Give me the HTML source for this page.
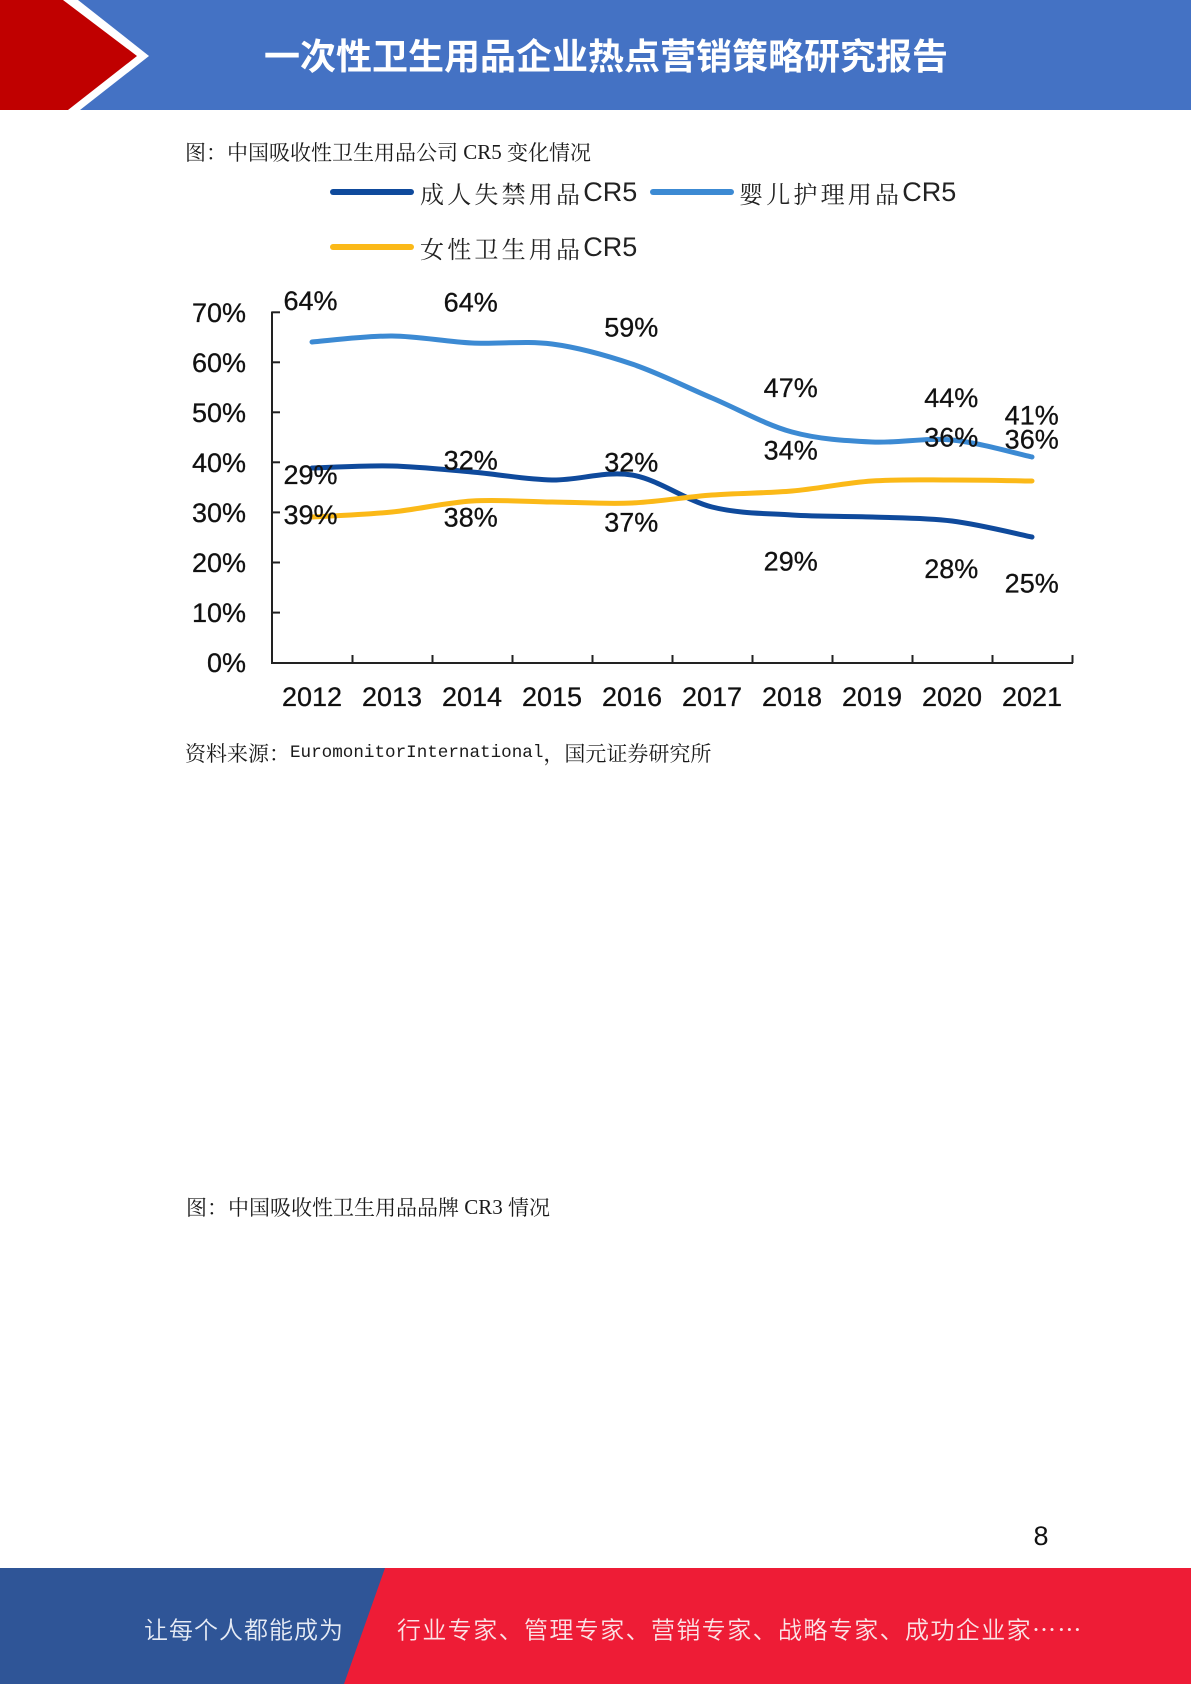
<!DOCTYPE html>
<html lang="zh">
<head>
<meta charset="utf-8">
<title>一次性卫生用品企业热点营销策略研究报告</title>
<style>
  html, body { margin: 0; padding: 0; background: #ffffff; }
  body { width: 1191px; height: 1684px; overflow: hidden; }
  svg { display: block; }
  .cap { font-family: "Noto Serif CJK SC", "Liberation Serif", serif; font-size: 21px; fill: #1a1a1a; }
  .lat { font-family: "Liberation Serif", "Noto Serif CJK SC", serif; }
  .mono { font-family: "Liberation Mono", monospace; font-size: 17.6px; }
  .num { font-family: "Liberation Sans", "DejaVu Sans", sans-serif; font-size: 27px; fill: #111; stroke: #111; stroke-width: 0.3px; }
  .leg { font-family: "Noto Serif CJK SC", "Liberation Serif", serif; font-size: 24px; fill: #222; letter-spacing: 3.2px; }
  .legl { font-family: "Liberation Sans", sans-serif; font-size: 27px; fill: #222; letter-spacing: 0; }
</style>
</head>
<body>
<svg width="1191" height="1684" viewBox="0 0 1191 1684" xmlns="http://www.w3.org/2000/svg">
  <!-- Header -->
  <rect x="0" y="0" width="1191" height="110" fill="#4472C4"/>
  <polygon points="0,0 78,0 149,56 80,110 0,110" fill="#ffffff"/>
  <polygon points="0,0 63,0 137,56 68,110 0,110" fill="#C00000"/>
  <text x="264" y="54" dominant-baseline="central" font-family="'Noto Sans CJK SC', 'Liberation Sans', sans-serif" font-weight="700" font-size="36" fill="#ffffff">一次性卫生用品企业热点营销策略研究报告</text>

  <!-- Caption 1 -->
  <text class="cap" x="185" y="152" dominant-baseline="central">图：中国吸收性卫生用品公司<tspan class="lat"> CR5 </tspan>变化情况</text>

  <!-- Legend -->
  <line x1="333" y1="192" x2="411" y2="192" stroke="#0F4A9C" stroke-width="6" stroke-linecap="round"/>
  <text x="420" y="192" dominant-baseline="central"><tspan class="leg">成人失禁用品</tspan><tspan class="legl">CR5</tspan></text>
  <line x1="653" y1="192" x2="731" y2="192" stroke="#3C8AD3" stroke-width="6" stroke-linecap="round"/>
  <text x="739" y="192" dominant-baseline="central"><tspan class="leg">婴儿护理用品</tspan><tspan class="legl">CR5</tspan></text>
  <line x1="333" y1="247" x2="411" y2="247" stroke="#FBB918" stroke-width="6" stroke-linecap="round"/>
  <text x="420" y="247" dominant-baseline="central"><tspan class="leg">女性卫生用品</tspan><tspan class="legl">CR5</tspan></text>

  <!-- Axes -->
  <g stroke="#222" stroke-width="2" fill="none">
    <line x1="272" y1="311.5" x2="272" y2="663.5"/>
    <line x1="271" y1="663" x2="1073" y2="663"/>
    <line x1="272" y1="312.3" x2="280" y2="312.3"/>
    <line x1="272" y1="362.3" x2="280" y2="362.3"/>
    <line x1="272" y1="412.3" x2="280" y2="412.3"/>
    <line x1="272" y1="462.3" x2="280" y2="462.3"/>
    <line x1="272" y1="512.4" x2="280" y2="512.4"/>
    <line x1="272" y1="562.5" x2="280" y2="562.5"/>
    <line x1="272" y1="612.6" x2="280" y2="612.6"/>
    <line x1="352.5" y1="655" x2="352.5" y2="663"/>
    <line x1="432.5" y1="655" x2="432.5" y2="663"/>
    <line x1="512.5" y1="655" x2="512.5" y2="663"/>
    <line x1="592.5" y1="655" x2="592.5" y2="663"/>
    <line x1="672.5" y1="655" x2="672.5" y2="663"/>
    <line x1="752.5" y1="655" x2="752.5" y2="663"/>
    <line x1="832.5" y1="655" x2="832.5" y2="663"/>
    <line x1="912.5" y1="655" x2="912.5" y2="663"/>
    <line x1="992.5" y1="655" x2="992.5" y2="663"/>
    <line x1="1072.5" y1="655" x2="1072.5" y2="663"/>
  </g>

  <!-- Y labels -->
  <g class="num" text-anchor="end">
    <text x="246" y="322">70%</text>
    <text x="246" y="372">60%</text>
    <text x="246" y="422">50%</text>
    <text x="246" y="472">40%</text>
    <text x="246" y="522">30%</text>
    <text x="246" y="572">20%</text>
    <text x="246" y="622">10%</text>
    <text x="246" y="672">0%</text>
  </g>

  <!-- X labels -->
  <g class="num" text-anchor="middle">
    <text x="312" y="706">2012</text>
    <text x="392" y="706">2013</text>
    <text x="472" y="706">2014</text>
    <text x="552" y="706">2015</text>
    <text x="632" y="706">2016</text>
    <text x="712" y="706">2017</text>
    <text x="792" y="706">2018</text>
    <text x="872" y="706">2019</text>
    <text x="952" y="706">2020</text>
    <text x="1032" y="706">2021</text>
  </g>

  <!-- Series -->
  <g fill="none" stroke-width="5" stroke-linecap="round" stroke-linejoin="round">
    <path stroke="#0F4A9C" d="M312,468 C325.3,467.7 365.3,465.3 392,466 C418.7,466.7 445.3,469.7 472,472 C498.7,474.3 525.3,479.5 552,480 C578.7,480.5 605.3,470.5 632,475 C658.7,479.5 685.3,500.3 712,507 C738.7,513.7 765.3,513.3 792,515 C818.7,516.7 845.3,516 872,517 C898.7,518 925.3,517.7 952,521 C978.7,524.3 1018.7,534.3 1032,537"/>
    <path stroke="#3C8AD3" d="M312,342 C325.3,341 365.3,335.8 392,336 C418.7,336.2 445.3,341.7 472,343 C498.7,344.3 525.3,340.5 552,344 C578.7,347.5 605.3,355 632,364 C658.7,373 685.3,386.7 712,398 C738.7,409.3 765.3,424.7 792,432 C818.7,439.3 845.3,440.7 872,442 C898.7,443.3 925.3,437.5 952,440 C978.7,442.5 1018.7,454.2 1032,457"/>
    <path stroke="#FBB918" d="M312,517 C325.3,516.2 365.3,514.7 392,512 C418.7,509.3 445.3,502.7 472,501 C498.7,499.3 525.3,501.7 552,502 C578.7,502.3 605.3,504.2 632,503 C658.7,501.8 685.3,497 712,495 C738.7,493 765.3,493.3 792,491 C818.7,488.7 845.3,482.8 872,481 C898.7,479.2 925.3,480 952,480 C978.7,480 1018.7,480.8 1032,481"/>
  </g>

  <!-- Data labels -->
  <g class="num" text-anchor="middle">
    <text x="310.5" y="310">64%</text>
    <text x="470.7" y="311.4">64%</text>
    <text x="310.5" y="484">29%</text>
    <text x="310.5" y="524">39%</text>
    <text x="470.7" y="469.7">32%</text>
    <text x="470.7" y="526.4">38%</text>
    <text x="631.3" y="336.4">59%</text>
    <text x="631.3" y="471.4">32%</text>
    <text x="631.3" y="531.4">37%</text>
    <text x="790.7" y="397">47%</text>
    <text x="790.7" y="459.7">34%</text>
    <text x="790.7" y="570.7">29%</text>
    <text x="951.3" y="407">44%</text>
    <text x="951.3" y="446.4">36%</text>
    <text x="951.3" y="578">28%</text>
    <text x="1031.7" y="424.7">41%</text>
    <text x="1031.7" y="448.7">36%</text>
    <text x="1031.7" y="592.4">25%</text>
  </g>

  <!-- Source -->
  <text class="cap" x="185" y="753" dominant-baseline="central">资料来源：<tspan class="mono">EuromonitorInternational</tspan>，国元证券研究所</text>

  <!-- Caption 2 -->
  <text class="cap" x="186" y="1207" dominant-baseline="central">图：中国吸收性卫生用品品牌<tspan class="lat"> CR3 </tspan>情况</text>

  <!-- Page number -->
  <text x="1041" y="1545" text-anchor="middle" font-family="'Liberation Sans', sans-serif" font-size="27" fill="#111">8</text>

  <!-- Footer -->
  <polygon points="0,1568 386,1568 345,1684 0,1684" fill="#2F5597"/>
  <polygon points="385,1568 1191,1568 1191,1684 344,1684" fill="#EE1C36"/>
  <text x="144" y="1628" dominant-baseline="central" font-family="'Noto Sans CJK SC', sans-serif" font-weight="350" font-size="24" letter-spacing="1" fill="#E6EBF5">让每个人都能成为</text>
  <text x="397" y="1628" dominant-baseline="central" font-family="'Noto Sans CJK SC', sans-serif" font-weight="350" font-size="24" letter-spacing="1.4" fill="#FBE3E6">行业专家、管理专家、营销专家、战略专家、成功企业家……</text>
</svg>
</body>
</html>
